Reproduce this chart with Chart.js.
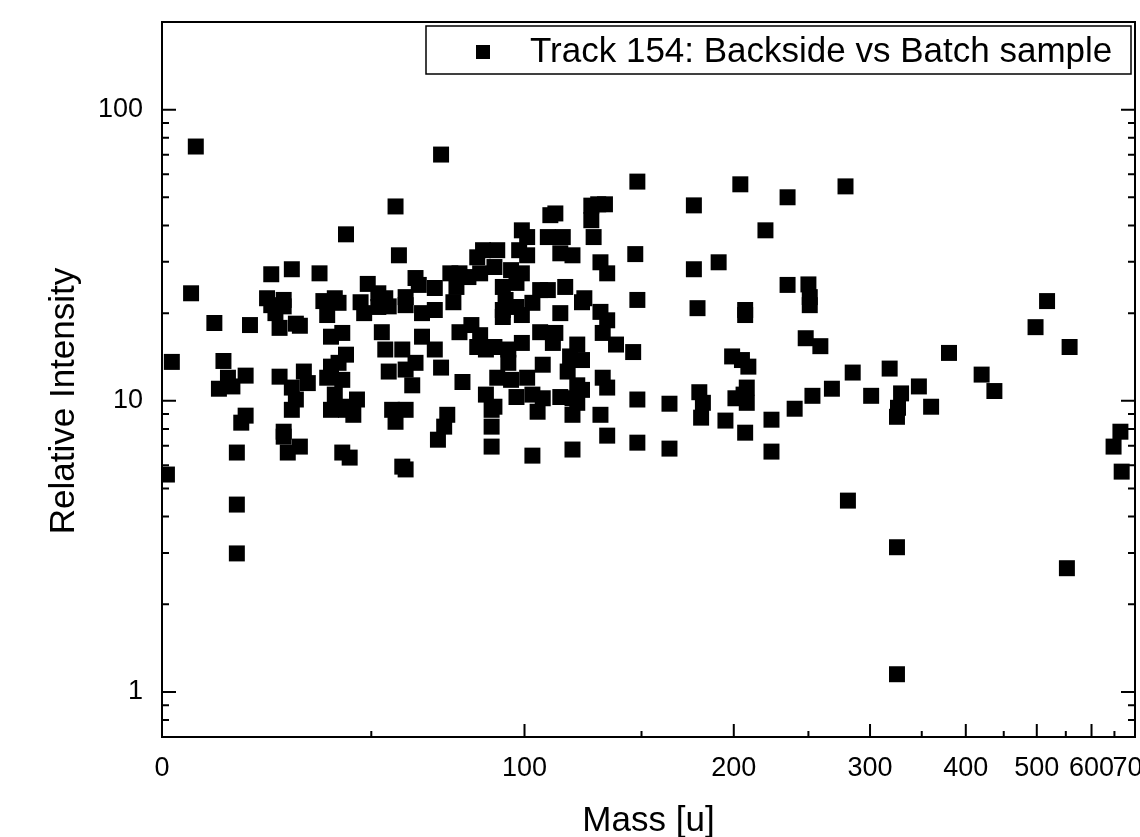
<!DOCTYPE html>
<html>
<head>
<meta charset="utf-8">
<script src="https://cdn.jsdelivr.net/npm/chart.js@4.4.1/dist/chart.umd.min.js"></script>
<style>
  html, body { margin: 0; padding: 0; background: #fff; overflow: hidden; }
</style>
</head>
<body>
<canvas id="myChart" width="1140" height="837"></canvas>
<script>
// values
var mass = [
  1, 2, 7, 6, 11, 13, 12, 14, 15, 16, 16, 16, 18, 18, 17, 19, 23, 24, 24, 25,
  27, 27, 26, 26, 29, 30, 31, 32, 33, 29, 30, 29, 27, 27, 28, 31, 36, 37, 40, 38,
  39, 39, 38, 40, 39, 42, 43, 41, 42, 43, 41, 42, 42, 43, 45, 46, 44, 47, 49, 52,
  54, 48, 52, 55, 57, 58, 60, 60, 63, 64, 65, 69, 69, 71, 74, 77, 80, 76, 85, 83,
  84, 75, 53, 54, 59, 65, 69, 63, 71, 55, 60, 62, 78, 81, 77, 83, 84, 86, 86, 88,
  88, 88, 56, 60, 57, 73, 72, 70, 59, 60,
  148, 110, 112, 130, 127, 128, 133, 127, 99, 101, 109, 115, 114, 119, 131, 134, 147, 90, 98, 101,
  89, 95, 99, 92, 97, 106, 109, 116, 124, 148, 93, 103, 92, 97, 99, 114, 123, 131, 134, 106,
  112, 111, 132, 138, 146, 121, 99, 89, 94, 118, 123, 107, 94, 132, 134, 121, 123, 117, 90, 95,
  101, 97, 103, 107, 114, 119, 105, 119, 121, 89, 131, 134, 148, 148, 119, 103, 92,
  164, 164, 177, 177, 179, 180, 181, 182, 191, 195, 199, 204, 201, 205, 207, 207, 206, 208, 209, 207,
  208, 220, 224, 224, 235, 235, 240, 248, 250, 251, 251, 253, 259, 268, 279, 281, 285, 301, 318, 325,
  326, 325, 325, 329, 347, 360, 380, 420, 437, 498, 517, 557, 552, 648, 664, 667
];
var intensity = [
  5.58, 13.6, 74.7, 23.4, 18.5, 13.7, 11.0, 12.0, 11.2, 6.64, 4.40, 2.99, 12.2, 8.89, 8.41, 18.2, 22.5, 27.2, 21.3, 20.0,
  22.2, 21.1, 17.8, 12.1, 28.3, 18.4, 18.1, 12.6, 11.5, 11.1, 10.1, 9.31, 7.83, 7.53, 6.64, 6.96, 27.4, 22.0, 22.5, 19.7,
  16.6, 13.1, 12.0, 10.5, 9.31, 6.64, 37.3, 21.7, 17.1, 14.4, 13.5, 11.8, 9.54, 9.31, 8.95, 10.1, 6.38, 21.8, 25.2, 23.4,
  22.5, 20.0, 21.0, 21.1, 46.5, 31.6, 22.7, 21.3, 26.4, 25.0, 20.0, 20.5, 24.4, 70.1, 27.4, 27.4, 26.6, 24.6, 32.9, 31.1,
  27.4, 21.8, 17.2, 15.0, 15.0, 16.6, 15.0, 13.5, 13.0, 12.6, 12.8, 11.3, 11.6, 18.2, 17.2, 15.3, 16.8, 15.0, 10.5, 9.31,
  8.15, 6.96, 9.31, 9.31, 8.47, 8.95, 8.15, 7.35, 5.94, 5.81,
  56.6, 43.4, 44.0, 47.3, 41.7, 36.5, 47.3, 46.8, 38.5, 36.5, 36.5, 36.5, 32.1, 31.6, 29.9, 27.4, 31.9, 32.9, 32.9, 31.6,
  28.8, 28.1, 27.4, 24.6, 25.4, 24.0, 24.0, 24.6, 22.5, 22.2, 22.2, 21.7, 20.5, 21.0, 19.7, 20.0, 21.8, 20.2, 18.9, 17.2,
  17.1, 15.8, 17.1, 15.6, 14.7, 15.6, 15.8, 15.3, 15.0, 14.2, 13.8, 13.3, 13.5, 12.0, 11.1, 11.3, 10.9, 12.6, 12.0, 11.8,
  12.0, 10.3, 10.5, 10.2, 10.3, 10.2, 9.17, 8.95, 9.84, 9.54, 8.95, 7.59, 10.1, 7.18, 6.80, 6.48, 19.4,
  9.77, 6.85, 46.9, 28.3, 20.8, 10.7, 8.75, 9.84, 29.9, 8.55, 14.2, 55.4, 10.2, 13.8, 20.5, 19.7, 10.5, 11.1, 13.1, 7.77,
  9.84, 38.5, 8.61, 6.69, 50.0, 25.0, 9.39, 16.4, 25.1, 22.7, 21.3, 10.4, 15.4, 11.0, 54.5, 4.54, 12.5, 10.4, 12.9, 8.81,
  9.46, 3.14, 1.15, 10.6, 11.2, 9.54, 14.6, 12.3, 10.8, 17.9, 22.0, 15.3, 2.66, 6.96, 7.83, 5.71
];

var xTickValues = [0, 100, 200, 300, 400, 500, 600, 700];
var xTickLabels = ['0', '100', '200', '300', '400', '500', '600', '700'];
var xMinorTicks = [50, 150, 250, 350, 450, 550, 650];
var yTickValues = [1, 10, 100];
var yTickLabels = ['1', '10', '100'];
var seriesLabel = 'Track 154: Backside vs Batch sample';
var yTitle = 'Relative Intensity';

// Origin style "offset reciprocal" axis: 1/(x + 273.14)
var OFFSET = 273.14;
function recip(v) { return 1 / OFFSET - 1 / (v + OFFSET); }

class OffsetRecipScale extends Chart.LinearScale {
  getPixelForValue(value) {
    var a = recip(this.min), b = recip(this.max);
    return this.getPixelForDecimal((recip(value) - a) / (b - a));
  }
  getValueForPixel(pixel) {
    var a = recip(this.min), b = recip(this.max);
    var t = a + this.getDecimalForPixel(pixel) * (b - a);
    return 1 / (1 / OFFSET - t) - OFFSET;
  }
}
OffsetRecipScale.id = 'offsetRecip';
OffsetRecipScale.defaults = Chart.LinearScale.defaults;
Chart.register(OffsetRecipScale);

var yTicks = [];
[0.1, 1, 10, 100].forEach(function (d) {
  for (var k = 1; k <= 9; k++) {
    var v = Number((k * d).toPrecision(3));
    if (v >= 0.7 && v <= 200) yTicks.push(v);
  }
});
var xTicks = xTickValues.concat(xMinorTicks).sort(function (a, b) { return a - b; });

var points = mass.map(function (m, i) { return { x: m, y: intensity[i] }; });

var font = '"Liberation Sans", Arial, Helvetica, sans-serif';
Chart.defaults.font.family = font;
Chart.defaults.color = '#000';

// frame, inward ticks, y title and the legend box
var framePlugin = {
  id: 'frame',
  afterDraw: function (chart) {
    var ctx = chart.ctx, a = chart.chartArea;
    var x = chart.scales.x, y = chart.scales.y;
    ctx.save();
    ctx.strokeStyle = '#000';
    ctx.lineWidth = 2;
    ctx.strokeRect(a.left, a.top, a.right - a.left, a.bottom - a.top);
    ctx.beginPath();
    x.ticks.forEach(function (t) {
      var px = x.getPixelForValue(t.value);
      var len = xTickValues.indexOf(t.value) >= 0 ? 13 : 6;
      ctx.moveTo(px, a.bottom);
      ctx.lineTo(px, a.bottom - len);
    });
    y.ticks.forEach(function (t) {
      var py = y.getPixelForValue(t.value);
      var len = yTickValues.indexOf(t.value) >= 0 ? 14 : 7;
      ctx.moveTo(a.left, py);
      ctx.lineTo(a.left + len, py);
      ctx.moveTo(a.right, py);
      ctx.lineTo(a.right - len, py);
    });
    ctx.stroke();

    // y axis title, sits a bit below the plot middle like the original
    ctx.fillStyle = '#000';
    ctx.font = '35px ' + font;
    ctx.textAlign = 'center';
    ctx.textBaseline = 'middle';
    ctx.translate(64, 401);
    ctx.rotate(-Math.PI / 2);
    ctx.fillText(yTitle, 0, 0);
    ctx.setTransform(1, 0, 0, 1, 0, 0);

    // legend
    ctx.fillStyle = '#fff';
    ctx.fillRect(426, 26, 705, 48);
    ctx.lineWidth = 1.5;
    ctx.strokeRect(426, 26, 705, 48);
    ctx.fillStyle = '#000';
    ctx.fillRect(476, 45, 14, 14);
    ctx.font = '35px ' + font;
    ctx.textAlign = 'left';
    ctx.fillText(seriesLabel, 530, 52);
    ctx.restore();
  }
};

var ctx = document.getElementById('myChart').getContext('2d');
var myChart = new Chart(ctx, {
  type: 'scatter',
  data: {
    datasets: [{
      label: seriesLabel,
      data: points,
      pointStyle: 'rect',
      pointRadius: 11.3,
      pointBorderWidth: 0,
      backgroundColor: '#000',
      borderColor: '#000'
    }]
  },
  options: {
    responsive: false,
    animation: false,
    devicePixelRatio: 1,
    events: [],
    layout: { autoPadding: false, padding: { left: 0, right: 5, top: 22, bottom: 0 } },
    plugins: {
      legend: { display: false },
      tooltip: { enabled: false }
    },
    scales: {
      x: {
        type: 'offsetRecip',
        min: 0,
        max: 700,
        grid: { display: false, drawTicks: false },
        border: { display: false },
        afterBuildTicks: function (s) {
          s.ticks = xTicks.map(function (v) { return { value: v }; });
        },
        afterFit: function (s) {
          s.height = 100;
          s.paddingLeft = 0;
          s.paddingRight = 0;
        },
        ticks: {
          autoSkip: false,
          maxRotation: 0,
          padding: 15,
          font: { size: 27 },
          callback: function (v) {
            var i = xTickValues.indexOf(v);
            return i >= 0 ? xTickLabels[i] : '';
          }
        },
        title: {
          display: true,
          text: 'Mass [u]',
          font: { size: 35, lineHeight: 1 },
          padding: { top: 0, bottom: -2 }
        }
      },
      y: {
        type: 'logarithmic',
        min: 0.7,
        max: 200,
        grid: { display: false, drawTicks: false },
        border: { display: false },
        afterBuildTicks: function (s) {
          s.ticks = yTicks.map(function (v) { return { value: v }; });
        },
        afterFit: function (s) {
          s.width = 162;
          s.paddingTop = 0;
          s.paddingBottom = 0;
        },
        ticks: {
          autoSkip: false,
          padding: 19,
          font: { size: 27 },
          callback: function (v) {
            var i = yTickValues.indexOf(v);
            return i >= 0 ? yTickLabels[i] : '';
          }
        }
      }
    }
  },
  plugins: [framePlugin]
});
</script>
</body>
</html>
